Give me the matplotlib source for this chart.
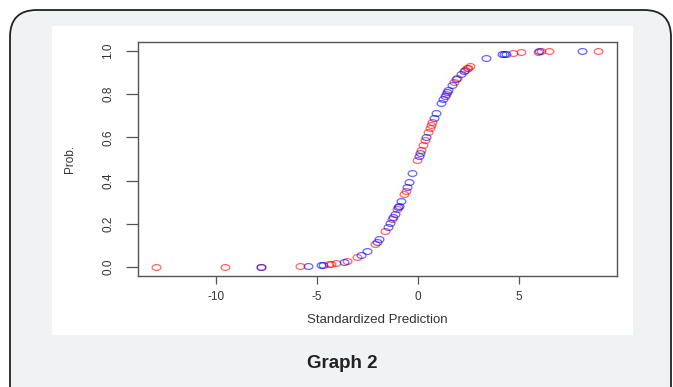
import matplotlib
matplotlib.use("Agg")
import matplotlib.pyplot as plt
import numpy as np
from matplotlib.patches import FancyBboxPatch, Rectangle
from matplotlib.path import Path

plt.rcParams['font.family'] = ['Liberation Sans', 'DejaVu Sans']

# points (standardized prediction, probability)
red_x = [-13.0, -9.55, -7.77, -5.83, -4.4, -4.3, -4.06, -3.5, -3.0, -2.13,
         -1.62, -1.26, -1.01, -0.68, -0.6, -0.02, 0.16, 0.26, 0.36, 0.51,
         0.59, 0.66, 0.71, 1.4, 1.8, 1.95, 2.35, 2.44, 2.49, 2.59,
         4.72, 5.12, 5.96, 6.1, 6.5, 8.92]
red_p = [0.000, 0.000, 0.000, 0.003, 0.012, 0.013, 0.017, 0.029, 0.047, 0.106,
         0.165, 0.221, 0.267, 0.336, 0.354, 0.495, 0.540, 0.565, 0.589, 0.625,
         0.643, 0.659, 0.670, 0.802, 0.858, 0.875, 0.913, 0.920, 0.923, 0.930,
         0.991, 0.994, 0.997, 0.998, 0.998, 1.000]

blue_x = [-7.77, -5.43, -4.8, -4.7, -3.65, -2.82, -2.52, -2.03, -1.92, -1.47,
          -1.37, -1.21, -1.12, -0.96, -0.93, -0.83, -0.53, -0.43, -0.27, 0.05,
          0.11, 0.41, 0.79, 0.91, 1.15, 1.25, 1.34, 1.45, 1.5, 1.68,
          1.9, 2.14, 2.3, 3.38, 4.19, 4.27, 4.37, 6.0, 8.13]
blue_p = [0.000, 0.004, 0.008, 0.009, 0.025, 0.056, 0.074, 0.116, 0.128, 0.187,
          0.203, 0.230, 0.246, 0.277, 0.283, 0.304, 0.371, 0.394, 0.433, 0.512,
          0.527, 0.601, 0.688, 0.713, 0.760, 0.777, 0.792, 0.810, 0.818, 0.843,
          0.870, 0.895, 0.909, 0.967, 0.985, 0.986, 0.988, 0.998, 1.000]

x_ticks = [-10, -5, 0, 5]
y_ticks = [0.0, 0.2, 0.4, 0.6, 0.8, 1.0]

W, H = 673, 387
fig = plt.figure(figsize=(W / 100, H / 100), dpi=100)
fig.patch.set_facecolor('white')

def fx(px):
    return px / W

def fy(py):
    return 1 - py / H

# outer rounded frame
frame = FancyBboxPatch((fx(10), fy(420)), fx(661), fy(10) - fy(420),
                       boxstyle="round,pad=0,rounding_size=0.04",
                       transform=fig.transFigure, facecolor='#f1f2f4',
                       edgecolor='#222222', linewidth=1.3,
                       mutation_aspect=W / H, zorder=-2)
fig.add_artist(frame)

# white panel behind the plot
panel = Rectangle((fx(52), fy(335)), fx(633) - fx(52), fy(26) - fy(335),
                  transform=fig.transFigure, facecolor='white', edgecolor='none',
                  zorder=-1)
fig.add_artist(panel)

ax = fig.add_axes([fx(138), fy(276), fx(617) - fx(138), fy(42) - fy(276)])
ax.set_facecolor('white')

# open ellipse marker (the picture is stretched sideways)
t = np.linspace(0, 2 * np.pi, 40)
ell = Path(np.column_stack([1.5 * np.cos(t), np.sin(t)]), closed=True)

ax.plot(red_x, red_p, linestyle='none', marker=ell, markersize=6.3,
        markerfacecolor='none', markeredgecolor=(1, 0, 0, 0.6), markeredgewidth=0.9)
ax.plot(blue_x, blue_p, linestyle='none', marker=ell, markersize=6.3,
        markerfacecolor='none', markeredgecolor=(0, 0, 1, 0.6), markeredgewidth=0.9)

ax.set_xlim(-13.88, 9.88)
ax.set_ylim(-0.042, 1.042)
ax.set_xticks(x_ticks)
ax.set_xticklabels([str(v) for v in x_ticks])
ax.set_yticks(y_ticks)
ax.set_yticklabels([f"{v:.1f}" for v in y_ticks], rotation=90, va='center')

for s in ax.spines.values():
    s.set_color('#555555')
    s.set_linewidth(1.0)
ax.tick_params(axis='x', length=6, width=0.9, color='#555555', labelsize=8.5,
               labelcolor='#333333', pad=5)
ax.tick_params(axis='y', length=9, width=0.9, color='#555555', labelsize=8.5,
               labelcolor='#333333', pad=8)

ax.set_xlabel("Standardized Prediction", fontsize=9.5, color='#333333', labelpad=8)
ax.set_ylabel("Prob.", fontsize=8.5, color='#333333', labelpad=19)

fig.text(fx(342), fy(363), "Graph 2", fontsize=13.5, fontweight='bold',
         color='#222222', ha='center', va='center')

fig.savefig("out.png", dpi=100)
